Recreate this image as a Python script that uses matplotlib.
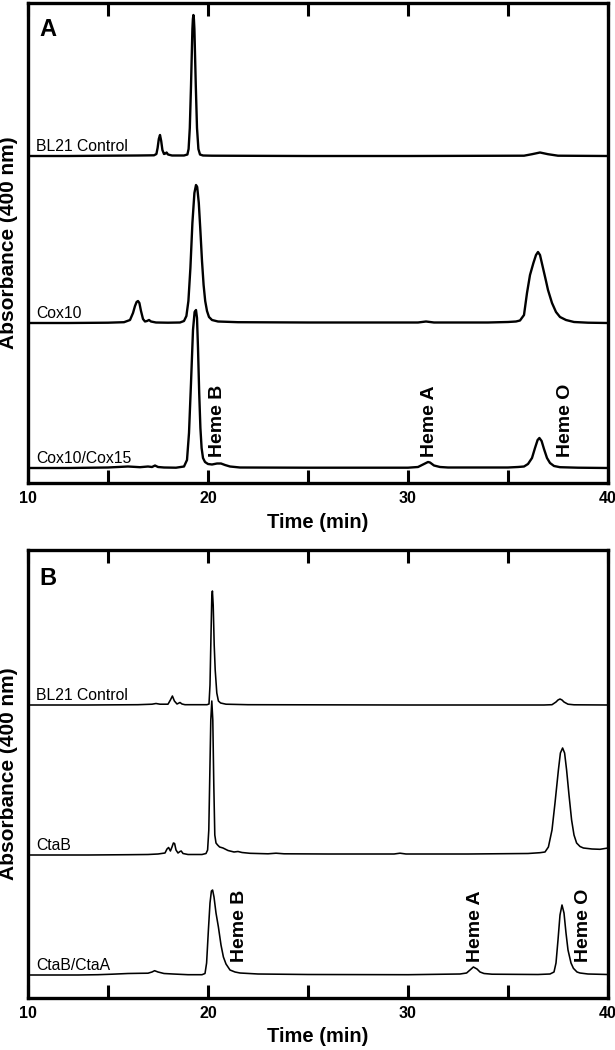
import matplotlib
matplotlib.use('Agg')
import matplotlib.pyplot as plt

plt.rcParams['font.family'] = ['Liberation Sans', 'DejaVu Sans']

# ---------------- data (time in min, absorbance in arbitrary units above lane baseline) ----------------
tick_pos = [11, 15, 20, 25, 30, 35, 40]
tick_lbl = ['10', '', '20', '', '30', '', '40']

# Panel A
A_names = ['BL21 Control', 'Cox10', 'Cox10/Cox15']
A_offsets = [327, 160, 15]

A_bl21_t = [11.0, 13.0, 15.0, 16.5, 17.3, 17.42, 17.48, 17.54, 17.6, 17.66, 17.72, 17.8, 17.87, 17.93, 18.0,
            18.2, 18.8, 18.97, 19.03, 19.09, 19.15, 19.22, 19.245, 19.27, 19.295, 19.32, 19.39, 19.45, 19.52,
            19.6, 19.75, 20.2, 25.0, 30.0, 35.8, 36.2, 36.6, 37.0, 37.5, 40.0]
A_bl21_h = [0, 0, 0.3, 0.5, 0.7, 2, 8, 17, 21, 15, 6, 2, 2.5, 3.5, 1.5,
            0.5, 0.5, 1.5, 7, 28, 70, 127, 137, 141, 137, 127, 70, 28, 7,
            1.5, 0.5, 0.3, 0, 0, 0.3, 1.8, 3.5, 1.8, 0.3, 0]

A_cox10_t = [11.0, 13.0, 15.0, 15.8, 16.1, 16.25, 16.35, 16.43, 16.5, 16.57, 16.65, 16.75, 16.85, 16.95, 17.05,
             17.15, 17.4, 18.0, 18.6, 18.8, 18.92, 19.02, 19.12, 19.22, 19.32, 19.4, 19.46, 19.54, 19.62, 19.7,
             19.78, 19.86, 19.95, 20.05, 20.2, 20.5, 21.5, 25.0, 30.5, 30.9, 31.3, 34.0, 35.0, 35.4, 35.6,
             35.8, 35.95, 36.1, 36.27, 36.4, 36.5, 36.6, 36.75, 36.9, 37.0, 37.2, 37.4, 37.6, 37.9, 38.3,
             39.0, 40.0]
A_cox10_h = [0, 0, 0.3, 0.8, 3, 10, 17, 21, 22, 20, 12, 4, 1.5, 2, 3,
             1.5, 0.5, 0.3, 0.5, 2, 7, 22, 55, 100, 130, 138, 136, 120, 92, 62,
             38, 22, 12, 6, 3, 1.5, 0.8, 0.5, 0.5, 1.5, 0.5, 0.5, 1, 1.5, 2.5,
             8, 30, 48, 60, 68, 71, 68, 55, 42, 33, 20, 11, 6, 3, 1,
             0.3, 0]

A_cox15_t = [11.0, 13.0, 15.0, 16.0, 16.6, 17.0, 17.2, 17.35, 17.5, 17.8, 18.4, 18.8, 18.95, 19.05, 19.15,
             19.25, 19.33, 19.4, 19.45, 19.5, 19.56, 19.62, 19.68, 19.75, 19.85, 20.0, 20.2, 20.45, 20.65, 20.85,
             21.1, 21.6, 25.0, 30.0, 30.5, 30.8, 31.0, 31.1, 31.3, 31.6, 32.0, 35.0, 35.5, 35.8, 36.0,
             36.2, 36.35, 36.48, 36.57, 36.68, 36.8, 36.95, 37.1, 37.3, 37.6, 38.5, 40.0]
A_cox15_h = [0, 0, 0.5, 1.5, 0.8, 1.5, 1, 2.5, 1, 0.5, 0.3, 1.5, 8, 35, 85,
             138, 156, 158, 150, 120, 75, 40, 20, 10, 6, 4, 3.5, 4.5, 4.5, 3,
             1.5, 0.5, 0.3, 0.3, 1, 4, 6, 5.5, 2.5, 1, 0.5, 0.5, 1, 1.5, 4,
             10, 20, 28, 30, 27, 19, 10, 5, 2, 0.8, 0.3, 0]

# Panel B
B_names = ['BL21 Control', 'CtaB', 'CtaB/CtaA']
B_offsets = [293, 143, 23]

B_bl21_t = [11.0, 14.0, 16.5, 17.2, 17.4, 17.6, 18.0, 18.12, 18.22, 18.32, 18.45, 18.6, 18.7, 18.85, 19.6,
            19.95, 20.05, 20.1, 20.15, 20.19, 20.22, 20.26, 20.31, 20.36, 20.44, 20.52, 20.63, 20.9, 22.0, 30.0,
            36.8, 37.2, 37.4, 37.5, 37.6, 37.7, 37.8, 38.0, 38.3, 40.0]
B_bl21_h = [0, 0, 0.3, 0.8, 1.5, 0.8, 0.8, 5, 9, 4, 1, 2.5, 1, 0.3, 0.3,
            0.3, 1, 20, 70, 108, 114, 100, 60, 35, 12, 4, 2, 0.8, 0.3, 0,
            0, 0.3, 3, 5, 6, 5, 3, 0.8, 0.2, 0]

B_ctab_t = [11.0, 14.0, 16.0, 17.0, 17.5, 17.85, 17.95, 18.03, 18.12, 18.2, 18.27, 18.33, 18.4, 18.5, 18.6,
            18.66, 18.75, 19.0, 19.7, 19.9, 19.98, 20.04, 20.09, 20.14, 20.19, 20.24, 20.29, 20.34, 20.4, 20.48,
            20.58, 20.75, 21.0, 21.3, 21.5, 21.7, 22.1, 23.0, 23.4, 23.8, 26.0, 29.3, 29.6, 29.9, 33.0,
            36.0, 36.6, 36.85, 37.02, 37.2, 37.35, 37.52, 37.62, 37.73, 37.83, 37.93, 38.05, 38.18, 38.3, 38.43,
            38.6, 38.77, 39.2, 39.6, 40.0]
B_ctab_h = [0, 0, 0.3, 0.5, 1, 2, 6, 7.5, 4, 8, 12, 11.5, 5, 2, 3.5,
            4, 1.5, 0.5, 0.5, 1.5, 5, 25, 80, 135, 154, 135, 70, 20, 12, 10,
            8, 7, 4.5, 3, 3.5, 2.5, 1.7, 1.2, 1.8, 1.2, 1, 1, 1.8, 1, 1,
            1.5, 2.3, 3, 8, 25, 52, 85, 102, 107, 102, 85, 60, 35, 20, 12,
            8.5, 7, 6, 5.7, 7]

B_ctaa_t = [11.0, 13.5, 14.5, 15.2, 16.0, 16.6, 17.0, 17.2, 17.33, 17.5, 17.8, 18.25, 19.0, 19.7, 19.85,
            19.93, 20.02, 20.1, 20.17, 20.23, 20.3, 20.4, 20.52, 20.65, 20.77, 20.9, 21.1, 21.35, 21.6, 22.5,
            25.0, 30.0, 32.6, 32.93, 33.1, 33.27, 33.45, 33.6, 33.8, 34.2, 36.5, 37.1, 37.3, 37.4, 37.5,
            37.6, 37.7, 37.8, 37.9, 38.0, 38.15, 38.27, 38.45, 38.6, 39.0, 40.0]
B_ctaa_h = [0, 0, 0.3, 0.8, 1.5, 1.7, 1.8, 3, 4.3, 3, 1.5, 1, 0.3, 0.3, 1.5,
            12, 45, 72, 84, 85, 78, 62, 48, 30, 18, 11, 5, 3, 2, 1,
            0.5, 0.3, 1, 2, 5, 8, 6, 3, 1.5, 0.8, 0.5, 1, 3, 12, 35,
            60, 70, 62, 42, 25, 12, 6.7, 3, 2, 1, 0.5]

# peak annotations: (label, time, y)
A_heme = [('Heme B', 20.5, 26), ('Heme A', 31.1, 26), ('Heme O', 37.85, 26)]
B_heme = [('Heme B', 21.6, 36), ('Heme A', 33.35, 36), ('Heme O', 38.8, 36)]

A_traces = [(A_bl21_t, A_bl21_h), (A_cox10_t, A_cox10_h), (A_cox15_t, A_cox15_h)]
B_traces = [(B_bl21_t, B_bl21_h), (B_ctab_t, B_ctab_h), (B_ctaa_t, B_ctaa_h)]

# ---------------- figure ----------------
W, H = 615, 1050
fig = plt.figure(figsize=(W / 100, H / 100), dpi=100)
axA = fig.add_axes([28 / W, 1 - 483 / H, 580 / W, 480 / H])
axB = fig.add_axes([28 / W, 1 - 998 / H, 580 / W, 448 / H])


def style(ax, ytop, letter, letter_y, names, offsets, traces, hemes, lw, name_dy):
    for (t, h), off, name in zip(traces, offsets, names):
        ax.plot(t, [v + off for v in h], color='black', lw=lw, solid_joinstyle='round')
        ax.text(11.4, off + name_dy, name, fontsize=11.3, ha='left', va='baseline')
    for lbl, t, y in hemes:
        ax.text(t, y, lbl, rotation=90, ha='center', va='bottom', fontsize=14, fontweight='bold')
    ax.set_xlim(11, 40)
    ax.set_ylim(0, ytop)
    ax.set_yticks([])
    ax.set_xticks(tick_pos)
    ax.set_xticklabels(tick_lbl, fontweight='bold', fontsize=11.5)
    ax.tick_params(axis='x', direction='in', length=9.5, width=2.2, top=True, pad=6)
    for s in ax.spines.values():
        s.set_linewidth(2.4)
    ax.set_xlabel('Time (min)', fontsize=14.5, fontweight='bold', va='center')
    ax.set_ylabel('Absorbance (400 nm)', fontsize=15, fontweight='bold', va='center')
    ax.yaxis.set_label_coords(-19 / 580, 0.5)
    ax.text(11 / 580, letter_y, letter, transform=ax.transAxes, fontsize=17,
            fontweight='bold', ha='left', va='top')


style(axA, 480, 'A', (483 - 18) / 480, A_names, A_offsets, A_traces, A_heme, 1.7, 5)
axA.xaxis.set_label_coords(0.5, (483 - 523) / 480)
style(axB, 448, 'B', (998 - 567) / 448, B_names, B_offsets, B_traces, B_heme, 1.15, 5)
axB.xaxis.set_label_coords(0.5, (998 - 1037) / 448)

fig.savefig('out.png', dpi=100)
